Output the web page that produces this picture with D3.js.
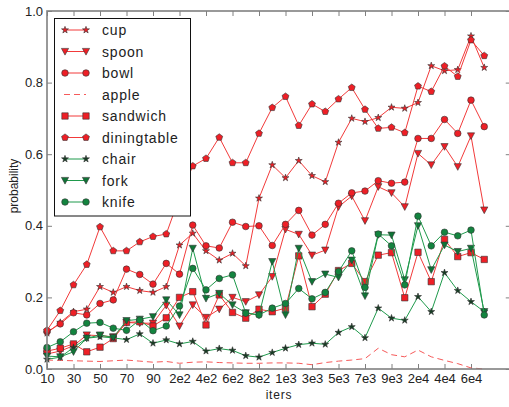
<!DOCTYPE html>
<html>
<head>
<meta charset="utf-8">
<script src="https://cdn.jsdelivr.net/npm/d3@7"></script>
<style>
  body { margin: 0; background: #fff; }
  text { font-family: "Liberation Sans", Arial, sans-serif; fill: #222; }
</style>
</head>
<body>
<div id="chart"></div>
<script>
// x positions are iteration indices; labels shown on every other one
const tickLabels = ['10', '30', '50', '70', '90', '2e2', '4e2', '6e2', '8e2',
  '1e3', '3e3', '5e3', '7e3', '9e3', '2e4', '4e4', '6e4'];

const cup = [0.100, 0.130, 0.160, 0.167, 0.230, 0.214, 0.230, 0.219, 0.214, 0.230,
  0.346, 0.379, 0.330, 0.304, 0.323, 0.288, 0.477, 0.570, 0.534, 0.582,
  0.540, 0.523, 0.633, 0.700, 0.691, 0.702, 0.731, 0.728, 0.744, 0.847,
  0.833, 0.836, 0.930, 0.842];
const spoon = [0.042, 0.050, 0.065, 0.095, 0.093, 0.090, 0.130, 0.128, 0.128, 0.178,
  0.120, 0.179, 0.144, 0.167, 0.200, 0.188, 0.207, 0.258, 0.390, 0.376,
  0.318, 0.332, 0.453, 0.483, 0.414, 0.509, 0.492, 0.453, 0.602, 0.570,
  0.621, 0.565, 0.651, 0.444];
const bowl = [0.104, 0.126, 0.157, 0.151, 0.183, 0.193, 0.279, 0.264, 0.237, 0.295,
  0.265, 0.402, 0.344, 0.338, 0.410, 0.398, 0.400, 0.345, 0.404, 0.443,
  0.374, 0.404, 0.463, 0.492, 0.497, 0.526, 0.519, 0.522, 0.644, 0.644,
  0.697, 0.658, 0.751, 0.677];
const apple = [0.025, 0.024, 0.023, 0.022, 0.021, 0.023, 0.025, 0.022, 0.019, 0.021,
  0.016, 0.019, 0.020, 0.018, 0.017, 0.016, 0.016, 0.017, 0.017, 0.016,
  0.012, 0.018, 0.022, 0.025, 0.029, 0.058, 0.040, 0.034, 0.053, 0.034,
  0.024, 0.015, 0.003, 0.000];
const sandwich = [0.050, 0.058, 0.070, 0.048, 0.061, 0.085, 0.130, 0.132, 0.120, 0.143,
  0.200, 0.216, 0.123, 0.207, 0.158, 0.142, 0.167, 0.160, 0.170, 0.316,
  0.174, 0.209, 0.275, 0.295, 0.244, 0.318, 0.325, 0.199, 0.326, 0.244,
  0.362, 0.314, 0.325, 0.306];
const diningtable = [0.108, 0.163, 0.235, 0.292, 0.397, 0.330, 0.330, 0.355, 0.370, 0.377,
  0.480, 0.567, 0.588, 0.647, 0.576, 0.576, 0.658, 0.730, 0.761, 0.680,
  0.740, 0.719, 0.754, 0.786, 0.725, 0.672, 0.675, 0.660, 0.790, 0.775,
  0.846, 0.817, 0.919, 0.875];
const chair = [0.027, 0.033, 0.060, 0.086, 0.090, 0.087, 0.082, 0.098, 0.072, 0.081,
  0.070, 0.077, 0.050, 0.057, 0.052, 0.037, 0.033, 0.046, 0.058, 0.068,
  0.072, 0.069, 0.102, 0.118, 0.087, 0.170, 0.142, 0.136, 0.202, 0.160,
  0.269, 0.219, 0.188, 0.160];
const fork = [0.036, 0.034, 0.048, 0.086, 0.095, 0.088, 0.135, 0.139, 0.146, 0.193,
  0.151, 0.337, 0.197, 0.211, 0.179, 0.157, 0.151, 0.300, 0.151, 0.337,
  0.244, 0.265, 0.256, 0.304, 0.204, 0.375, 0.374, 0.249, 0.400, 0.277,
  0.346, 0.328, 0.337, 0.160];
const knife = [0.060, 0.076, 0.104, 0.128, 0.130, 0.114, 0.108, 0.137, 0.107, 0.120,
  0.176, 0.281, 0.221, 0.253, 0.263, 0.156, 0.151, 0.170, 0.183, 0.225,
  0.196, 0.214, 0.272, 0.330, 0.228, 0.377, 0.344, 0.235, 0.427, 0.344,
  0.382, 0.372, 0.388, 0.151];

const RED = '#ee1f26', RED_LINE = '#f23a3a';
const GREEN_LINE = '#1f9a4c';

const series = [
  { name: 'cup', values: cup, marker: 'star', fill: RED, line: RED_LINE },
  { name: 'spoon', values: spoon, marker: 'tri', fill: RED, line: RED_LINE },
  { name: 'bowl', values: bowl, marker: 'circle', fill: RED, line: RED_LINE },
  { name: 'apple', values: apple, marker: null, fill: null, line: '#f65a5a', dash: '6,4' },
  { name: 'sandwich', values: sandwich, marker: 'square', fill: RED, line: RED_LINE },
  { name: 'diningtable', values: diningtable, marker: 'pent', fill: RED, line: RED_LINE },
  { name: 'chair', values: chair, marker: 'star', fill: '#173d24', line: GREEN_LINE },
  { name: 'fork', values: fork, marker: 'tri', fill: '#0f7436', line: GREEN_LINE },
  { name: 'knife', values: knife, marker: 'circle', fill: '#13843f', line: GREEN_LINE }
];

const width = 509, height = 407;
const svg = d3.select('#chart').append('svg')
  .attr('width', width)
  .attr('height', height);

const x = d3.scaleLinear().domain([0, 35]).range([47, 510.75]);
const y = d3.scaleLinear().domain([0, 1]).range([369, 11]);

// marker shapes
function markerPath(type) {
  if (type === 'star') return d3.symbol(d3.symbolStar, 15)();
  if (type === 'square') return 'M-3.2,-3.2H3.2V3.2H-3.2Z';
  if (type === 'tri') return 'M-3.6,-3.1L3.6,-3.1L0,3.6Z';
  if (type === 'pent') {
    const r = 3.6;
    const pts = d3.range(5).map(k => {
      const a = -Math.PI / 2 + k * 2 * Math.PI / 5;
      return [r * Math.cos(a), r * Math.sin(a)];
    });
    return 'M' + pts.map(p => p.join(',')).join('L') + 'Z';
  }
  return null;
}

function drawMarker(g, s, px, py) {
  if (!s.marker) return;
  if (s.marker === 'circle') {
    g.append('circle')
      .attr('cx', px).attr('cy', py).attr('r', 3.3)
      .attr('fill', s.fill).attr('stroke', '#333').attr('stroke-width', 0.6);
  } else {
    g.append('path')
      .attr('d', markerPath(s.marker))
      .attr('transform', `translate(${px},${py})`)
      .attr('fill', s.fill).attr('stroke', '#333').attr('stroke-width', 0.6);
  }
}

// axes (ticks point inward)
const xTicks = d3.range(0, 33, 2);
svg.append('g')
  .attr('transform', `translate(0,${y(0)})`)
  .call(d3.axisBottom(x).tickValues(xTicks).tickFormat((d, i) => tickLabels[i])
    .tickSizeInner(-5).tickSizeOuter(0).tickPadding(5))
  .call(g => g.select('.domain').remove())
  .call(g => g.selectAll('line').attr('stroke', '#808080'))
  .call(g => g.selectAll('text').style('font-size', '13px').attr('fill', '#222'));

svg.append('g')
  .attr('transform', `translate(0,${y(1)})`)
  .call(d3.axisTop(x).tickValues(xTicks).tickFormat('').tickSizeInner(-5).tickSizeOuter(0))
  .call(g => g.select('.domain').remove())
  .call(g => g.selectAll('line').attr('stroke', '#808080'));

const yTicks = [0, 0.2, 0.4, 0.6, 0.8, 1.0];
svg.append('g')
  .attr('transform', `translate(${x(0)},0)`)
  .call(d3.axisLeft(y).tickValues(yTicks).tickFormat(d3.format('.1f'))
    .tickSizeInner(-5).tickSizeOuter(0).tickPadding(4))
  .call(g => g.select('.domain').remove())
  .call(g => g.selectAll('line').attr('stroke', '#808080'))
  .call(g => g.selectAll('text').style('font-size', '13px').attr('fill', '#222'));

svg.append('g')
  .attr('transform', `translate(${x(35)},0)`)
  .call(d3.axisRight(y).tickValues(yTicks).tickFormat('').tickSizeInner(-5).tickSizeOuter(0))
  .call(g => g.select('.domain').remove())
  .call(g => g.selectAll('line').attr('stroke', '#808080'));

// plot lines and markers
const plot = svg.append('g');
const line = d3.line().x((d, i) => x(i)).y(d => y(d));
series.forEach(s => {
  const g = plot.append('g');
  g.append('path')
    .datum(s.values)
    .attr('d', line)
    .attr('fill', 'none')
    .attr('stroke', s.line)
    .attr('stroke-width', 1)
    .attr('stroke-dasharray', s.dash || null);
  s.values.forEach((v, i) => drawMarker(g, s, x(i), y(v)));
});

// frame
svg.append('rect')
  .attr('x', x(0)).attr('y', y(1))
  .attr('width', x(35) - x(0)).attr('height', y(0) - y(1))
  .attr('fill', 'none').attr('stroke', '#808080').attr('stroke-width', 1.6);

// axis labels
svg.append('text')
  .attr('x', 279).attr('y', 399)
  .attr('text-anchor', 'middle')
  .style('font-size', '12px').style('letter-spacing', '0.8px')
  .text('iters');
svg.append('text')
  .attr('transform', 'translate(18,186) rotate(-90)')
  .attr('text-anchor', 'middle')
  .style('font-size', '12px')
  .text('probability');

// legend
const legend = svg.append('g');
legend.append('rect')
  .attr('x', 54.5).attr('y', 18.5).attr('width', 136).attr('height', 197.5)
  .attr('fill', '#fff').attr('stroke', '#111').attr('stroke-width', 1);
series.forEach((s, i) => {
  const ly = 30 + i * 21.5;
  legend.append('line')
    .attr('x1', 64).attr('x2', 86).attr('y1', ly).attr('y2', ly)
    .attr('stroke', s.line).attr('stroke-width', 1)
    .attr('stroke-dasharray', s.dash || null);
  drawMarker(legend, s, 65, ly);
  drawMarker(legend, s, 86, ly);
  legend.append('text')
    .attr('x', 102).attr('y', ly + 5)
    .style('font-size', '14px').style('letter-spacing', '0.8px')
    .text(s.name);
});
</script>
</body>
</html>
